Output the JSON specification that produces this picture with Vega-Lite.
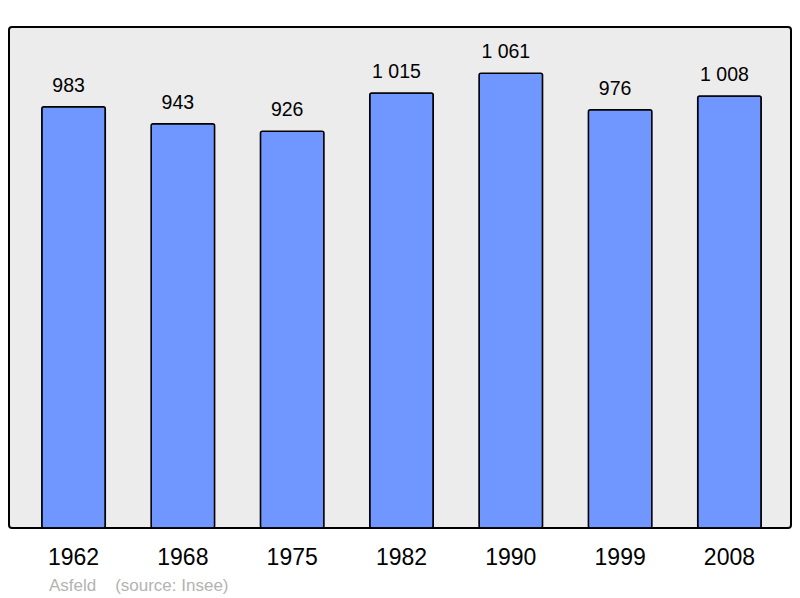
{
  "$schema": "https://vega.github.io/schema/vega-lite/v6.json",
  "width": 782,
  "height": 501,
  "autosize": {"type": "none"},
  "padding": {"left": 9, "top": 27, "right": 9, "bottom": 70},
  "config": {
    "font": "Liberation Sans",
    "locale": {"number": {"decimal": ",", "thousands": " ", "grouping": [3], "currency": ["", " €"]}},
    "view": {"fill": "#ececec", "stroke": "#000000", "strokeWidth": 2, "cornerRadius": 3}
  },
  "title": {
    "text": "Asfeld\u00a0\u00a0\u00a0\u00a0(source: Insee)",
    "orient": "bottom",
    "anchor": "start",
    "frame": "group",
    "dx": 40,
    "offset": 9,
    "fontSize": 17,
    "fontWeight": "normal",
    "color": "#b3b3b3"
  },
  "data": {
    "values": [
      {"year": "1962", "pop": 983},
      {"year": "1968", "pop": 943},
      {"year": "1975", "pop": 926},
      {"year": "1982", "pop": 1015},
      {"year": "1990", "pop": 1061},
      {"year": "1999", "pop": 976},
      {"year": "2008", "pop": 1008}
    ]
  },
  "encoding": {
    "x": {
      "field": "year",
      "type": "nominal",
      "sort": null,
      "scale": {"paddingInner": 0.419, "paddingOuter": 0.3, "range": [0, 785]},
      "axis": {
        "title": null,
        "domain": false,
        "ticks": false,
        "labelAngle": 0,
        "labelFontSize": 23,
        "labelColor": "#000000",
        "labelPadding": 18
      }
    },
    "y": {
      "field": "pop",
      "type": "quantitative",
      "scale": {"domain": [0, 1169], "nice": false, "zero": true},
      "axis": null
    }
  },
  "layer": [
    {
      "mark": {"type": "bar", "fill": "#7096ff", "stroke": "#000000", "strokeWidth": 1.5, "cornerRadius": 2}
    },
    {
      "mark": {"type": "text", "baseline": "alphabetic", "dy": -15, "dx": -5, "fontSize": 19.5, "color": "#000000"},
      "encoding": {"text": {"field": "pop", "type": "quantitative", "format": ",d"}}
    }
  ]
}
